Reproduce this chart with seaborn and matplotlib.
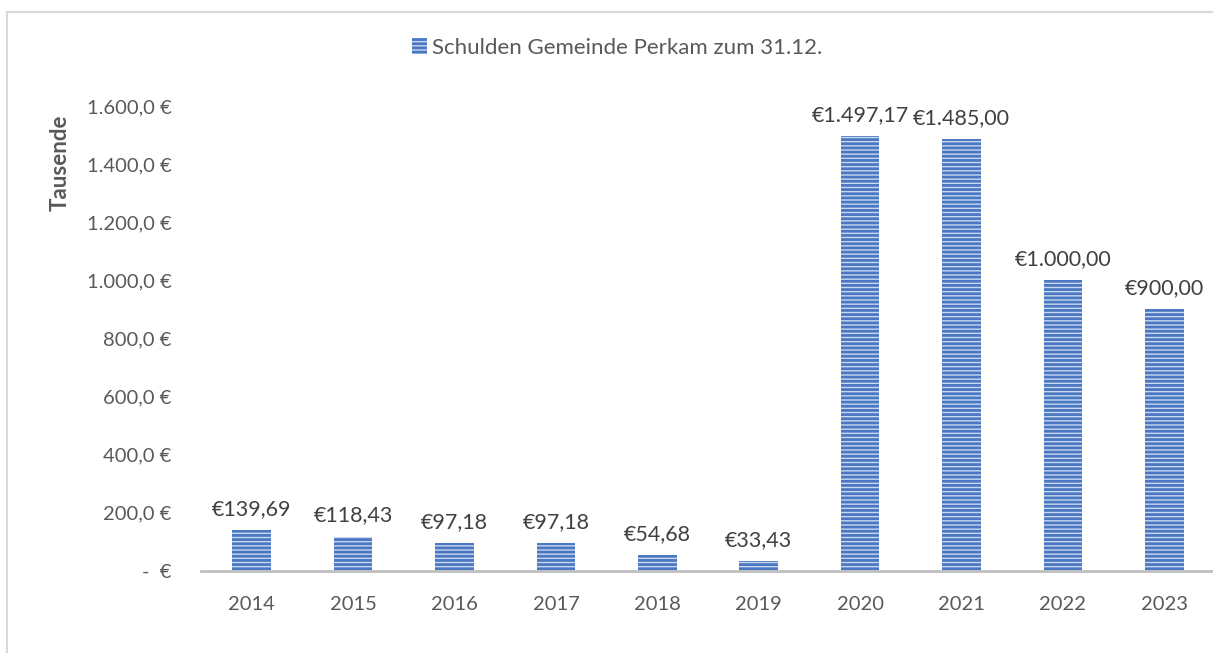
import matplotlib
matplotlib.use("Agg")
import matplotlib.pyplot as plt
import seaborn as sns
import pandas as pd
from matplotlib.patches import Patch, Rectangle

years = ["2014", "2015", "2016", "2017", "2018", "2019", "2020", "2021", "2022", "2023"]
schulden = [139.69, 118.43, 97.18, 97.18, 54.68, 33.43, 1497.17, 1485.00, 1000.00, 900.00]
y_ticks = [0, 200, 400, 600, 800, 1000, 1200, 1400, 1600]
series_name = "Schulden Gemeinde Perkam zum 31.12."


def de_num(v, dec):
    s = f"{v:,.{dec}f}"
    return s.replace(",", "X").replace(".", ",").replace("X", ".")


sns.set_style("white")
plt.rcParams['font.family'] = ['Lato', 'DejaVu Sans']
plt.rcParams['hatch.linewidth'] = 2.0

W, H = 1213, 653
fig = plt.figure(figsize=(W / 100, H / 100), dpi=100)
ax = fig.add_axes([201 / W, 1 - 571 / H, (1215 - 201) / W, (571 - 106) / H])

df = pd.DataFrame({"year": years, "value": schulden})
sns.barplot(data=df, x="year", y="value", ax=ax, width=0.38, color="#c9d8f0", saturation=1)

bar_col = "#4a78c2"
for p in ax.patches:
    p.set_hatch("----")
    p.set_edgecolor(bar_col)
    p.set_linewidth(0)

for i, v in enumerate(schulden):
    ax.annotate("€" + de_num(v, 2), (i, v), xytext=(0, 8), textcoords="offset points",
                ha="center", va="bottom", fontsize=15.5, color="#404040", annotation_clip=False)

ax.set_xlim(-0.5, len(years) - 0.5)
ax.set_ylim(0, 1600)
ax.set_yticks(y_ticks)
ax.set_yticklabels(["-  €" if t == 0 else de_num(t, 1) + " €" for t in y_ticks])
ax.tick_params(axis="both", length=0, labelsize=14.5, labelcolor="#595959")
ax.tick_params(axis="x", pad=18)
ax.tick_params(axis="y", pad=21)
ax.set_xlabel("")
ax.set_ylabel("")
for s in ["top", "right", "left"]:
    ax.spines[s].set_visible(False)
ax.spines["bottom"].set_color("#bfbfbf")
ax.spines["bottom"].set_linewidth(2)

fig.text(60 / W, 1 - 163 / H, "Tausende", rotation=90, ha="center", va="center",
         fontsize=16, fontweight="bold", color="#595959")

handle = Patch(facecolor="#c9d8f0", edgecolor=bar_col, hatch="----", linewidth=0)
fig.legend([handle], [series_name], loc="center", bbox_to_anchor=(617 / W, 1 - 48 / H),
           frameon=False, fontsize=16, labelcolor="#595959", handlelength=0.7,
           handleheight=0.7, handletextpad=0.2)

fig.patches.append(Rectangle((7 / W, -0.1), 1.2, 1 - 12 / H + 0.1, transform=fig.transFigure,
                             fill=False, edgecolor="#d9d9d9", linewidth=1.5))

fig.savefig("out.png", dpi=100)
